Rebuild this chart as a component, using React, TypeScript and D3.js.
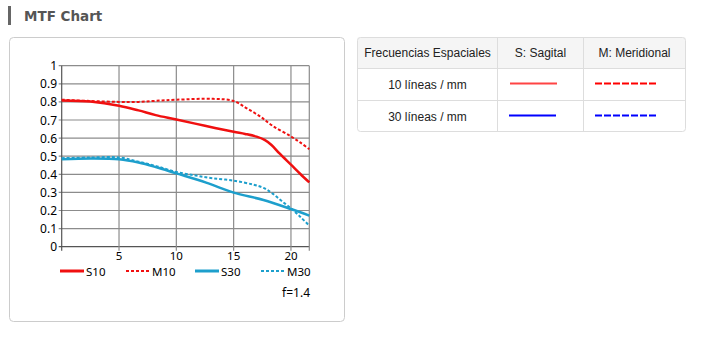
import React from "react";
import * as d3 from "d3";

const xTicks = [5, 10, 15, 20];
const yTicks = [0, 0.1, 0.2, 0.3, 0.4, 0.5, 0.6, 0.7, 0.8, 0.9, 1];
const yTickLabels = ["0", "0.1", "0.2", "0.3", "0.4", "0.5", "0.6", "0.7", "0.8", "0.9", "1"];

const s10X = [0, 2.5, 5, 6.7, 8.2, 10, 12.5, 15, 16, 17, 17.7, 18.3, 19, 20, 20.8, 21.6];
const s10Y = [0.808, 0.802, 0.779, 0.753, 0.727, 0.703, 0.668, 0.635, 0.623, 0.608, 0.59, 0.562, 0.515, 0.453, 0.403, 0.355];
const m10X = [0, 2.5, 5, 6.7, 8.2, 10, 13.2, 15, 16.1, 17.3, 18.4, 20, 20.8, 21.6];
const m10Y = [0.812, 0.805, 0.8, 0.8, 0.806, 0.812, 0.817, 0.805, 0.766, 0.72, 0.668, 0.609, 0.576, 0.539];
const s30X = [0, 2.5, 5, 6.7, 8.2, 10, 12.6, 15, 17.6, 20, 21.6];
const s30Y = [0.483, 0.487, 0.483, 0.465, 0.44, 0.405, 0.354, 0.299, 0.258, 0.208, 0.172];
const m30X = [0, 2.5, 5, 6.7, 8.2, 10, 11.7, 13.2, 15, 16.7, 17.6, 18.4, 19.2, 20, 20.8, 21.6];
const m30Y = [0.489, 0.493, 0.493, 0.47, 0.446, 0.413, 0.393, 0.378, 0.365, 0.343, 0.325, 0.293, 0.252, 0.212, 0.166, 0.116];

const seriesNames = ["S10", "M10", "S30", "M30"];
const tableHeaders = ["Frecuencias Espaciales", "S: Sagital", "M: Meridional"];
const tableRows = ["10 líneas / mm", "30 líneas / mm"];

const RED = "#f01010";
const CYAN = "#1d9fcc";

export default function App() {
  const x = d3.scaleLinear().domain([0, 21.6]).range([61.7, 309.3]);
  const y = d3.scaleLinear().domain([0, 1]).range([246.7, 65.7]);
  const line = d3
    .line<[number, number]>()
    .x((d) => x(d[0]))
    .y((d) => y(d[1]))
    .curve(d3.curveCatmullRom.alpha(0.5));
  const mk = (xs: number[], ys: number[]) => line(xs.map((v, i) => [v, ys[i]] as [number, number])) || "";

  const series = [
    { name: seriesNames[0], d: mk(s10X, s10Y), color: RED, dash: undefined, w: 2.5 },
    { name: seriesNames[1], d: mk(m10X, m10Y), color: RED, dash: "3,2", w: 2 },
    { name: seriesNames[2], d: mk(s30X, s30Y), color: CYAN, dash: undefined, w: 2.5 },
    { name: seriesNames[3], d: mk(m30X, m30Y), color: CYAN, dash: "3,2", w: 2 },
  ];
  const legendX = [60, 126, 195, 261];
  const chartFont = "'Noto Sans', 'Open Sans', sans-serif";
  const tableFont = "'Liberation Sans', Arial, sans-serif";
  const colX = [357.5, 497.5, 583.5, 685.5];
  const rowY = [37.5, 68.5, 100.5, 131.5];
  const gridColor = "#8c8c8c";

  return (
    <div style={{ position: "absolute", left: 0, top: 0 }}>
      <svg width={704} height={337} style={{ display: "block" }}>
        <rect x={0} y={0} width={704} height={337} fill="#fff" />
        {/* title */}
        <rect x={8} y={6} width={3} height={19} fill="#666" />
        <text x={24} y={21} fontFamily="'DejaVu Sans', Verdana, sans-serif" fontWeight="bold" fontSize={13.5} fill="#555">
          MTF Chart
        </text>
        {/* panel */}
        <rect x={9.5} y={37.5} width={335} height={284} rx={4} fill="#fff" stroke="#ccc" />
        {/* grid */}
        {yTicks.map((t) => (
          <line key={"gy" + t} x1={x(0) - 3} x2={x(21.6)} y1={y(t)} y2={y(t)} stroke={t === 0 ? "#555" : gridColor} strokeWidth={1.2} />
        ))}
        {xTicks.map((t) => (
          <line key={"gx" + t} x1={x(t)} x2={x(t)} y1={y(1)} y2={y(0) + 4} stroke={gridColor} strokeWidth={1.2} />
        ))}
        <line x1={x(21.6)} x2={x(21.6)} y1={y(1)} y2={y(0) + 4} stroke={gridColor} strokeWidth={1.2} />
        <line x1={x(0)} x2={x(0)} y1={y(1)} y2={y(0) + 4} stroke="#555" strokeWidth={1.2} />
        {/* tick labels */}
        {yTicks.map((t, i) => (
          <text key={"ly" + t} x={57} y={y(t) + 4.5} textAnchor="end" fontFamily={chartFont} fontSize={12} fill="#000">
            {yTickLabels[i]}
          </text>
        ))}
        {xTicks.map((t) => (
          <text key={"lx" + t} x={x(t)} y={259.5} textAnchor="middle" fontFamily={chartFont} fontSize={11.5} fill="#000">
            {t}
          </text>
        ))}
        {/* series */}
        {series.map((s) => (
          <path key={s.name} d={s.d} fill="none" stroke={s.color} strokeWidth={s.w} strokeDasharray={s.dash} />
        ))}
        {/* legend */}
        {series.map((s, i) => (
          <g key={"lg" + s.name}>
            <line x1={legendX[i]} x2={legendX[i] + 24} y1={271} y2={271} stroke={s.color} strokeWidth={s.dash ? 2 : 3} strokeDasharray={s.dash} />
            <text x={legendX[i] + 26} y={276} fontFamily={chartFont} fontSize={11.5} fill="#000">
              {s.name}
            </text>
          </g>
        ))}
        <text x={310} y={297} textAnchor="end" fontFamily={chartFont} fontSize={12} fill="#000">
          f=1.4
        </text>
        {/* table */}
        <rect x={colX[0]} y={rowY[0]} width={colX[3] - colX[0]} height={rowY[1] - rowY[0]} fill="#f5f5f5" />
        <rect x={colX[0]} y={rowY[0]} width={colX[3] - colX[0]} height={rowY[3] - rowY[0]} rx={3} fill="none" stroke="#ddd" />
        {[rowY[1], rowY[2]].map((ry) => (
          <line key={"r" + ry} x1={colX[0]} x2={colX[3]} y1={ry} y2={ry} stroke="#ddd" />
        ))}
        {[colX[1], colX[2]].map((cx) => (
          <line key={"c" + cx} x1={cx} x2={cx} y1={rowY[0]} y2={rowY[3]} stroke="#ddd" />
        ))}
        {tableHeaders.map((h, i) => (
          <text key={h} x={(colX[i] + colX[i + 1]) / 2} y={57} textAnchor="middle" fontFamily={tableFont} fontSize={12} fill="#222">
            {h}
          </text>
        ))}
        {tableRows.map((r, i) => (
          <text key={r} x={(colX[0] + colX[1]) / 2} y={(rowY[i + 1] + rowY[i + 2]) / 2 + 4.5} textAnchor="middle" fontFamily={tableFont} fontSize={12} fill="#222">
            {r}
          </text>
        ))}
        <line x1={510} x2={557} y1={83.5} y2={83.5} stroke="#ff4444" strokeWidth={2} />
        <line x1={595} x2={657} y1={83.5} y2={83.5} stroke="#ff0000" strokeWidth={2} strokeDasharray="7,2" />
        <line x1={509} x2={556} y1={115.5} y2={115.5} stroke="#0000ff" strokeWidth={2} />
        <line x1={595} x2={657} y1={115.5} y2={115.5} stroke="#0000ff" strokeWidth={2} strokeDasharray="7,2" />
      </svg>
    </div>
  );
}
